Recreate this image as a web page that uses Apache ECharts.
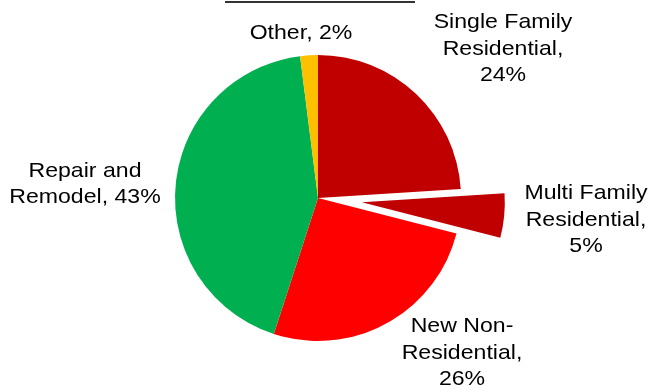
<!DOCTYPE html>
<html>
<head>
<meta charset="utf-8">
<script src="https://cdn.jsdelivr.net/npm/echarts@6/dist/echarts.min.js"></script>
<style>
  html, body { margin: 0; padding: 0; background: #ffffff; }
  #chart { width: 653px; height: 392px; }
</style>
</head>
<body>
<div id="chart"></div>
<script>
// Construction spending share by segment (percent)
const categories = [
  'Single Family Residential',
  'Multi Family Residential',
  'New Non-Residential',
  'Repair and Remodel',
  'Other'
];
const values = [24, 5, 26, 43, 2];
const colors = ['#C00000', '#C00000', '#FF0000', '#00B050', '#FFC000'];
// Label text, broken over lines as drawn
const labelTexts = [
  'Single Family\nResidential,\n24%',
  'Multi Family\nResidential,\n5%',
  'New Non-\nResidential,\n26%',
  'Repair and\nRemodel, 43%',
  'Other, 2%'
];
// The Multi Family slice is pulled out of the pie
const explodedIndex = 1;

// Where each label's text block is centred
const labelPlaces = [
  [503, 49],
  [586, 220],
  [462, 353],
  [85, 184],
  [301, 33]
];

const chart = echarts.init(document.getElementById('chart'), null, { renderer: 'canvas' });

// Labels use a slightly widened face
const labelGraphics = labelTexts.map((t, i) => ({
  type: 'text',
  x: labelPlaces[i][0],
  y: labelPlaces[i][1],
  scaleX: 1.1,
  silent: true,
  style: {
    text: t,
    align: 'center',
    verticalAlign: 'middle',
    fontFamily: 'Liberation Sans',
    fontSize: 21,
    lineHeight: 26.5,
    fill: '#000000'
  }
}));

chart.setOption({
  animation: false,
  backgroundColor: '#ffffff',
  graphic: [{
    type: 'line',
    shape: { x1: 225, y1: 2, x2: 415, y2: 2 },
    style: { stroke: '#333333', lineWidth: 2 }
  }].concat(labelGraphics),
  series: [{
    type: 'pie',
    center: [318, 198],
    radius: 143,
    startAngle: 90,
    clockwise: true,
    selectedMode: 'single',
    selectedOffset: 44,
    emphasis: { disabled: true },
    select: { itemStyle: { borderWidth: 0 } },
    itemStyle: { borderWidth: 0 },
    label: { show: false },
    labelLine: { show: false },
    data: categories.map((name, i) => ({
      name: name,
      value: values[i],
      selected: i === explodedIndex,
      itemStyle: { color: colors[i] },
      select: { itemStyle: { color: colors[i] } }
    }))
  }]
});
</script>
</body>
</html>
